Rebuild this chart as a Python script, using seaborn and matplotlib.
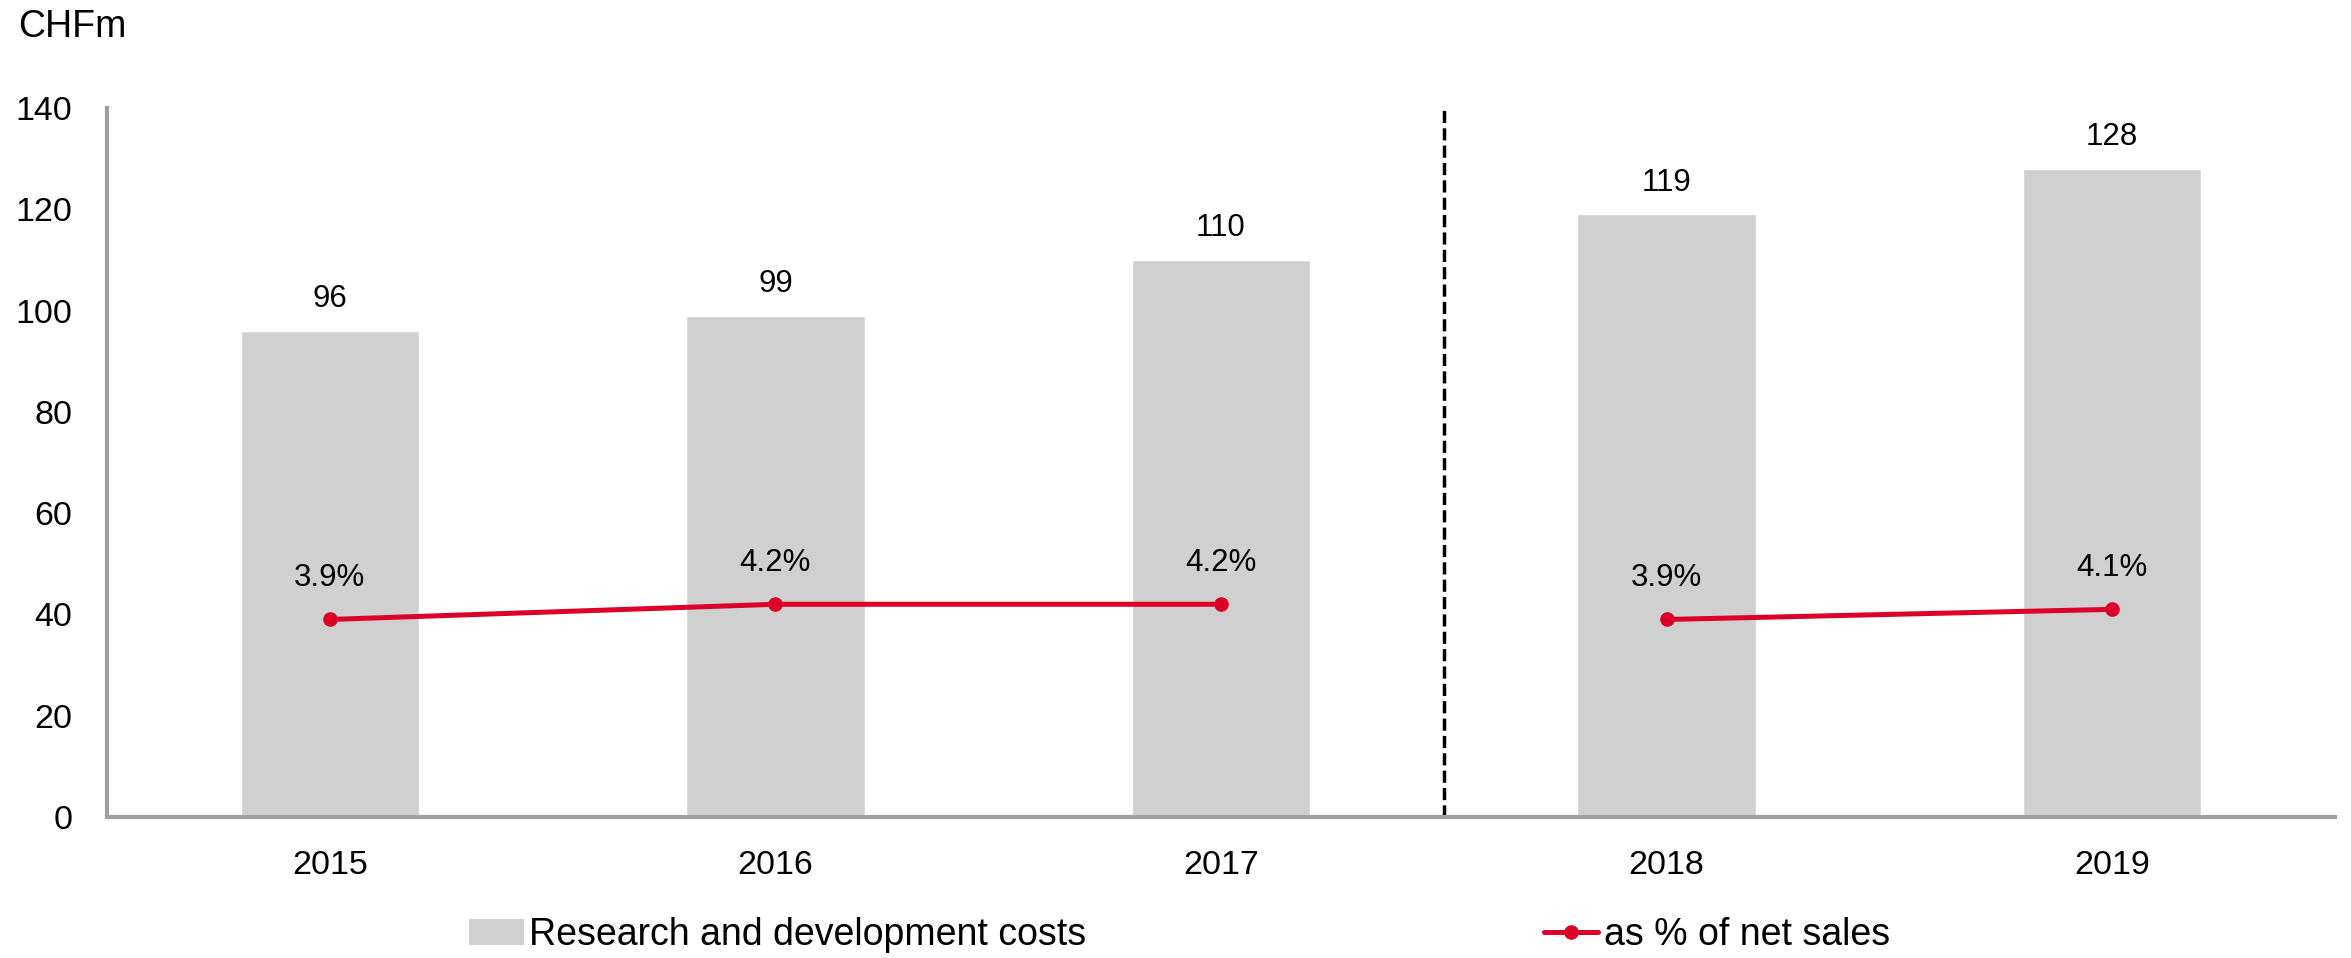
import numpy as np
import pandas as pd
import matplotlib
matplotlib.use('Agg')
import matplotlib.pyplot as plt
from matplotlib.lines import Line2D
from matplotlib.patches import Patch
import seaborn as sns

YEARS = ['2015', '2016', '2017', '2018', '2019']
RD_COSTS = [96, 99, 110, 119, 128]
PCT_SALES = [3.9, 4.2, 4.2, 3.9, 4.1]
# line is broken between 2017 and 2018 (restated basis)
SEGMENTS = [0, 0, 0, 1, 1]

BAR_COLOR = '#D0D0D0'
RED = '#DC0028'
SPINE = '#A0A0A0'

sns.set_style('white')
plt.rcParams['font.family'] = ['Liberation Sans', 'DejaVu Sans']
plt.rcParams['text.color'] = 'black'
plt.rcParams['xtick.color'] = 'black'
plt.rcParams['ytick.color'] = 'black'

df = pd.DataFrame({'year': YEARS, 'rd': RD_COSTS, 'pct': PCT_SALES, 'seg': SEGMENTS})
df['pos'] = np.arange(len(df))
df['pct_scaled'] = df['pct'] * 10

fig = plt.figure(figsize=(23.51, 9.58), dpi=100)
ax = fig.add_axes([0.0455, 0.1472, 0.9477, 0.7401])

sns.barplot(data=df, x='year', y='rd', color=BAR_COLOR, width=0.4,
            saturation=1, ax=ax)
ax.bar_label(ax.containers[0], labels=[str(v) for v in RD_COSTS],
             padding=12, fontsize=22.5, color='black')

for seg, d in df.groupby('seg'):
    sns.lineplot(data=d, x='pos', y='pct_scaled', color=RED, lw=3.6,
                 marker='o', markersize=10.5, markeredgewidth=0, ax=ax)

for _, r in df.iterrows():
    ax.annotate('{:.1f}%'.format(r['pct']), (r['pos'], r['pct_scaled']),
                xytext=(0, 19), textcoords='offset points',
                ha='center', va='bottom', fontsize=22.5, color='black')

ax.axvline(2.5, color='black', lw=2.5, linestyle=(0, (3.5, 1.5)))

ax.set_xlim(-0.5, 4.5)
ax.set_ylim(0, 140)
ax.set_yticks(np.arange(0, 141, 20))
ax.set_xlabel('')
ax.set_ylabel('')
ax.tick_params(axis='both', length=0, labelsize=24.5, labelcolor='black')
ax.tick_params(axis='y', pad=25)
ax.tick_params(axis='x', pad=24)
for s in ['top', 'right']:
    ax.spines[s].set_visible(False)
for s in ['left', 'bottom']:
    ax.spines[s].set_color(SPINE)
    ax.spines[s].set_linewidth(3)

fig.text(0.0077, 0.972, 'CHFm', fontsize=27, va='center', ha='left', color='black')

handles = [Patch(facecolor=BAR_COLOR, edgecolor='none'),
           Line2D([0], [0], color=RED, lw=3.6, marker='o', markersize=10.5,
                  markeredgewidth=0)]
leg = fig.legend(handles, ['Research and development costs', 'as % of net sales'],
                 loc='center left', bbox_to_anchor=(0.1996, 0.024), ncol=2,
                 frameon=False, fontsize=27, handlelength=1.45, handletextpad=0.15,
                 columnspacing=12.2, borderpad=0, borderaxespad=0)
for t in leg.get_texts():
    t.set_color('black')

fig.savefig('out.png', dpi=100)
